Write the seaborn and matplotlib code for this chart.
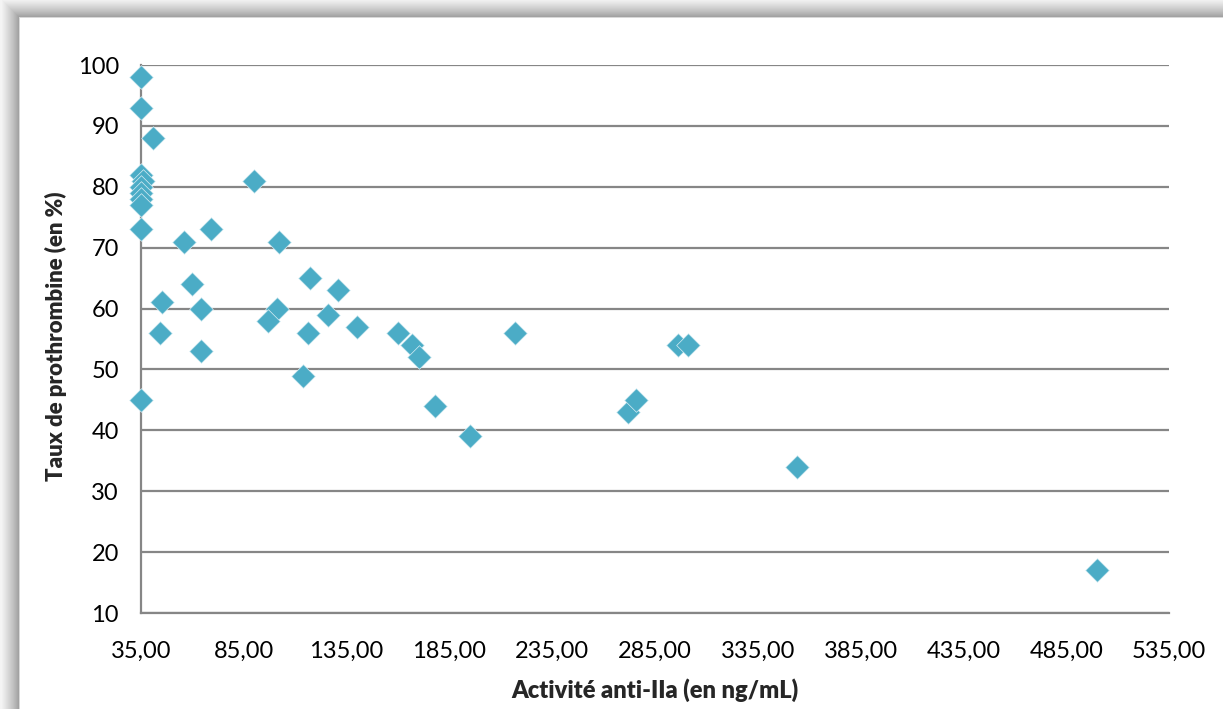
import numpy as np
import matplotlib
matplotlib.use("Agg")
import matplotlib.pyplot as plt
import seaborn as sns

# Anti-IIa activity (ng/mL) and prothrombin rate (%) per sample
activite_anti_iia = [35, 35, 41, 35, 36, 35, 35, 35, 35, 35, 35,
                     45, 44, 56, 60, 64, 64, 69, 90, 102, 101, 97,
                     117, 116, 114, 126, 131, 140, 160, 167, 170, 178,
                     195, 217, 272, 276, 296, 301, 354, 500]
taux_prothrombine = [98, 93, 88, 82, 81, 80, 79, 78, 77, 73, 45,
                     61, 56, 71, 64, 60, 53, 73, 81, 71, 60, 58,
                     65, 56, 49, 59, 63, 57, 56, 54, 52, 44,
                     39, 56, 43, 45, 54, 54, 34, 17]

x_ticks = list(range(35, 536, 50))
y_ticks = list(range(10, 101, 10))

sns.set_theme(style="white")
plt.rcParams["font.family"] = ["Lato", "DejaVu Sans"]

W, H = 1223, 709
fig = plt.figure(figsize=(W / 100, H / 100), dpi=100)

# Framed panel with a soft drop shadow along the top and left edges
bg_ax = fig.add_axes([0, 0, 1, 1], zorder=-10)
yy, xx = np.mgrid[0:H, 0:W]
panel_x0, panel_y0 = 20, 18
dist = np.maximum(panel_x0 - xx, panel_y0 - yy).astype(float)
shade = np.ones((H, W))
outside = dist > 0
shade[outside] = 0.60 + 0.36 * np.clip((dist[outside] - 1) / 18.0, 0, 1) ** 0.8
edge = (dist > 0) & (dist <= 1.5)
shade[edge] = 0.85
bg_ax.imshow(np.dstack([shade] * 3), aspect="auto", interpolation="bilinear")
bg_ax.set_axis_off()

ax = fig.add_axes([141 / W, 1 - 613 / H, (1169 - 141) / W, (613 - 65) / H])
ax.set_facecolor("none")

sns.scatterplot(x=activite_anti_iia, y=taux_prothrombine, marker="D", s=145,
                color="#4BACC6", edgecolor="#d8eef4", linewidth=0.5,
                ax=ax, zorder=3, clip_on=False)

grid_col = "#868686"
ax.set_xlim(35, 535)
ax.set_ylim(10, 100)
ax.set_xticks(x_ticks)
ax.set_xticklabels([f"{v:.2f}".replace(".", ",") for v in x_ticks])
ax.set_yticks(y_ticks)
ax.set_yticklabels([str(v) for v in y_ticks])
ax.yaxis.grid(True, color=grid_col, linewidth=1.6)
ax.xaxis.grid(False)
ax.set_axisbelow(True)

for side in ("top", "right"):
    ax.spines[side].set_visible(False)
for side in ("left", "bottom"):
    ax.spines[side].set_color(grid_col)
    ax.spines[side].set_linewidth(1.6)

ax.tick_params(axis="x", direction="out", length=6, width=1.6, color=grid_col,
               labelsize=17, pad=14, labelcolor="black")
ax.tick_params(axis="y", direction="out", length=6, width=1.6, color=grid_col,
               labelsize=17, pad=10, labelcolor="black")

ax.set_xlabel("Activité anti-IIa (en ng/mL)", fontsize=17, fontweight="heavy",
              labelpad=12)
ax.set_ylabel("Taux de prothrombine (en %)", fontsize=16, fontweight="heavy")
ax.yaxis.set_label_coords(-0.072, 0.505)

fig.savefig("out.png", dpi=100)
